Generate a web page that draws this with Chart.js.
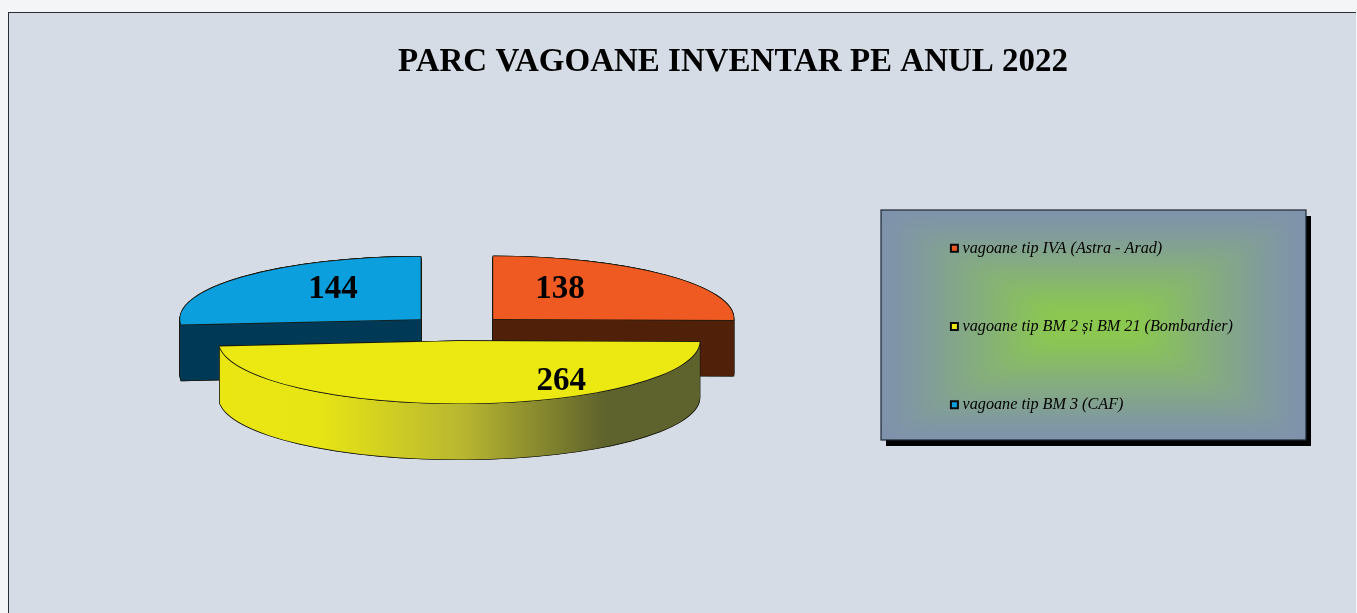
<!DOCTYPE html>
<html>
<head>
<meta charset="utf-8">
<style>
html,body{margin:0;padding:0;background:#f4f5f7;overflow:hidden;width:1357px;height:613px}
#frame{position:absolute;left:8px;top:12px;right:1px;bottom:-4px;background:#d6dce6;border:1.5px solid #2b2f33;border-right:none}
#wrap{position:absolute;left:0;top:0;width:1357px;height:613px}
</style>
</head>
<body>
<div id="frame"></div>
<div id="wrap"><canvas id="c" width="1357" height="613"></canvas></div>
<script src="https://cdn.jsdelivr.net/npm/chart.js@4/dist/chart.umd.min.js"></script>
<script>
const chartTitle = "PARC VAGOANE INVENTAR PE ANUL 2022";
const categories = ["vagoane tip IVA (Astra - Arad)", "vagoane tip BM 2 și BM 21 (Bombardier)", "vagoane tip BM 3 (CAF)"];
const values = [138, 264, 144];
const topColors = ["#EE5A22", "#EBE812", "#0C9FDE"];
const sideColors = ["#51210A", null, "#003A56"];

const pieCenterX = 457.5, pieCenterY = 328, pieRadius = 240.5, squash = 0.26, depth = 56, explode = 50;
const labelPolar = [[28.5, 140], [145, 178], [-35.5, 151]];
const labelNudgeY = 2.5;

const legendBox = {x: 881, y: 210, w: 425, h: 230};

function lerpColor(a, b, t) {
  return "rgb(" + a.map((v, i) => Math.round(v + (b[i] - v) * t)).join(",") + ")";
}

const frame3d = {
  id: "frame3d",
  beforeDraw(chart) {
    const ctx = chart.ctx, b = legendBox;
    const edge = [127, 146, 172], mid = [139, 200, 80];
    const off = document.createElement("canvas");
    off.width = b.w; off.height = b.h;
    const oc = off.getContext("2d");
    const n = 50;
    for (let i = 0; i < n; i++) {
      const t = i / (n - 1);
      const ix = t * b.w / 2 * 0.78, iy = t * b.h / 2 * 0.86;
      oc.fillStyle = lerpColor(edge, mid, Math.pow(t, 1.2));
      oc.fillRect(ix, iy, b.w - 2 * ix, b.h - 2 * iy);
    }
    ctx.save();
    ctx.fillStyle = "#000";
    ctx.fillRect(b.x + 5, b.y + 6, b.w, b.h);
    ctx.fillStyle = lerpColor(edge, mid, 0);
    ctx.fillRect(b.x, b.y, b.w, b.h);
    ctx.save();
    ctx.beginPath();
    ctx.rect(b.x, b.y, b.w, b.h);
    ctx.clip();
    ctx.filter = "blur(9px)";
    ctx.drawImage(off, b.x, b.y);
    ctx.restore();
    ctx.strokeStyle = "#1c2733";
    ctx.lineWidth = 1.2;
    ctx.strokeRect(b.x, b.y, b.w, b.h);
    ctx.restore();
  },
  beforeDatasetsDraw(chart) {
    const ctx = chart.ctx;
    const arcs = chart.getDatasetMeta(0).data;
    const paint = (arc, ox, oy, d, color) => {
      const mid = (arc.startAngle + arc.endAngle) / 2;
      const ex = Math.cos(mid) * explode, ey = Math.sin(mid) * explode * squash;
      const saved = arc.options;
      arc.options = Object.assign({}, saved, {backgroundColor: color, borderWidth: 0, offset: 0});
      ctx.save();
      ctx.translate(pieCenterX + ex + ox, pieCenterY + ey + oy + d);
      ctx.scale(1, squash);
      ctx.translate(-arc.x, -arc.y);
      arc.draw(ctx);
      ctx.restore();
      arc.options = saved;
    };
    const outline = [[-0.6, -0.6], [0.6, -0.6], [-0.6, 0.6], [0.6, 0.6]];
    [0, 2, 1].forEach(i => {
      const arc = arcs[i];
      let side = sideColors[i];
      if (!side) {
        const shift = arc.x - pieCenterX;
        side = ctx.createLinearGradient(219 + shift, 0, 700 + shift, 0);
        side.addColorStop(0, "#E9E612");
        side.addColorStop(0.2, "#E8E515");
        side.addColorStop(0.5, "#B9B730");
        side.addColorStop(0.8, "#5E622C");
        side.addColorStop(1, "#5E622C");
      }
      for (const [ox, oy] of outline) {
        for (let d = depth; d >= 0; d -= 1) paint(arc, ox, oy, d, "#1a1a10");
      }
      for (let d = depth; d >= 0; d -= 1) paint(arc, 0, 0, d, side);
      for (const [ox, oy] of outline) paint(arc, ox, oy, 0, "#1a1a10");
      paint(arc, 0, 0, 0, topColors[i]);
    });
    ctx.save();
    ctx.fillStyle = "#000";
    ctx.font = "bold 33px 'Liberation Serif'";
    ctx.textAlign = "center";
    ctx.textBaseline = "middle";
    arcs.forEach((arc, i) => {
      const mid = (arc.startAngle + arc.endAngle) / 2;
      const ex = Math.cos(mid) * explode, ey = Math.sin(mid) * explode * squash;
      const a = labelPolar[i][0] * Math.PI / 180, r = labelPolar[i][1];
      ctx.fillText(String(values[i]), pieCenterX + ex + Math.sin(a) * r, pieCenterY + ey - Math.cos(a) * r * squash + labelNudgeY);
    });
    ctx.restore();
    return false;
  }
};

new Chart(document.getElementById("c"), {
  type: "pie",
  data: {
    labels: categories,
    datasets: [{data: values, backgroundColor: topColors, borderColor: "#0b0b0b", borderWidth: 2, radius: pieRadius}]
  },
  plugins: [frame3d],
  options: {
    responsive: false,
    animation: false,
    layout: {padding: {left: 223, right: 114, top: 40, bottom: 0}},
    plugins: {
      tooltip: {enabled: false},
      title: {
        display: true,
        text: chartTitle,
        color: "#000",
        font: {family: "'Liberation Serif'", size: 33, weight: "bold"},
        padding: {top: 3, bottom: 10}
      },
      legend: {
        position: "right",
        align: "center",
        labels: {
          color: "#000",
          font: {family: "'Liberation Serif'", size: 16.2, style: "italic"},
          usePointStyle: true,
          pointStyle: "rect",
          boxWidth: 0.01,
          boxHeight: 7,
          padding: 62
        }
      }
    }
  }
});
</script>
</body>
</html>
